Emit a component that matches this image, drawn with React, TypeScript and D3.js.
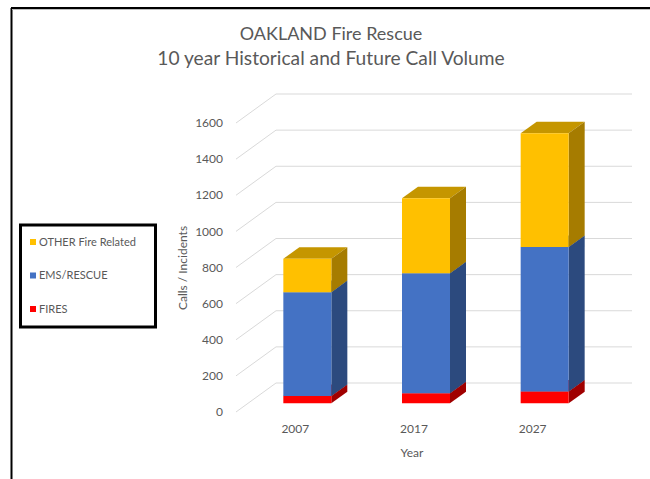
import React from "react";
import * as d3 from "d3";

const years = ["2007", "2017", "2027"];
const fires = [40, 55, 65];
const ems = [575, 665, 800];
const other = [185, 415, 630];
const yTicks = [0, 200, 400, 600, 800, 1000, 1200, 1400, 1600];
const seriesNames = ["FIRES", "EMS/RESCUE", "OTHER Fire Related"];

const colors = [
  { front: "#FF0000", side: "#A00000", top: "#C00000" },
  { front: "#4472C4", side: "#2C4A7E", top: "#365C9E" },
  { front: "#FFC000", side: "#A67C00", top: "#C59600" },
];

const FONT = "Lato, 'Open Sans', sans-serif";
const GRAY = "#595959";

export default function App() {
  const x = d3.scaleBand<string>().domain(years).range([236, 592]);
  const y = d3.scaleLinear().domain([0, 1600]).range([412, 123]);
  const DX = 40, DY = -29;
  const proj = (px: number, py: number, d: number): [number, number] => [px + DX * d, py + DY * d];
  const barW = 48;
  const d0 = 0.3, d1 = 0.7;

  const stackData = years.map((yr, i) => ({ yr, FIRES: fires[i], EMS: ems[i], OTHER: other[i] }));
  const stack = d3.stack<any>().keys(["FIRES", "EMS", "OTHER"]);
  const series = stack(stackData);

  const pts = (arr: [number, number][]) => arr.map((p) => p.join(",")).join(" ");

  const bars: React.ReactNode[] = [];
  years.forEach((yr, i) => {
    const cx = (x(yr) as number) + x.bandwidth() / 2;
    const xl = cx - barW / 2;
    const xr = cx + barW / 2;
    series.forEach((s, si) => {
      const [v0, v1] = s[i];
      const yb = y(v0);
      const yt = y(v1);
      const c = colors[si];
      const front: [number, number][] = [proj(xl, yb, d0), proj(xr, yb, d0), proj(xr, yt, d0), proj(xl, yt, d0)];
      const side: [number, number][] = [proj(xr, yb, d0), proj(xr, yb, d1), proj(xr, yt, d1), proj(xr, yt, d0)];
      const top: [number, number][] = [proj(xl, yt, d0), proj(xr, yt, d0), proj(xr, yt, d1), proj(xl, yt, d1)];
      bars.push(
        <g key={`${yr}-${si}`}>
          <polygon points={pts(top)} fill={c.top} />
          <polygon points={pts(side)} fill={c.side} />
          <polygon points={pts(front)} fill={c.front} />
        </g>
      );
    });
  });

  return (
    <svg width={650} height={479} style={{ position: "absolute", left: 0, top: 0, background: "#fff" }}>
      <rect x={0} y={0} width={650} height={479} fill="#fff" />
      {/* frame */}
      <line x1={11.5} y1={8} x2={11.5} y2={479} stroke="#000" strokeWidth={2} />
      <line x1={11} y1={8} x2={650} y2={8} stroke="#000" strokeWidth={2} />
      <line x1={12} y1={9.5} x2={650} y2={9.5} stroke="#BFBFBF" strokeWidth={1} />

      {/* title */}
      <text x={331} y={40} textAnchor="middle" fontFamily={FONT} fontSize={18} fill={GRAY}>
        OAKLAND Fire Rescue
      </text>
      <text x={331} y={65} textAnchor="middle" fontFamily={FONT} fontSize={19.2} fill={GRAY}>
        10 year Historical and Future Call Volume
      </text>

      {/* gridlines */}
      {yTicks.map((t) => {
        const p0 = proj(236, y(t), 0);
        const p1 = proj(236, y(t), 1);
        const p2: [number, number] = [632, p1[1]];
        return (
          <polyline key={t} points={pts([p0, p1, p2])} fill="none" stroke="#D9D9D9" strokeWidth={1} />
        );
      })}

      {/* y tick labels */}
      {yTicks.map((t) => (
        <text key={t} x={223} y={y(t)} dy="0.35em" textAnchor="end" fontFamily={FONT} fontSize={12} fill={GRAY}>
          {t}
        </text>
      ))}

      {bars}

      {/* x labels */}
      {years.map((yr) => (
        <text key={yr} x={(x(yr) as number) + x.bandwidth() / 2} y={433} textAnchor="middle" fontFamily={FONT} fontSize={12} fill={GRAY}>
          {yr}
        </text>
      ))}

      <text x={412} y={457} textAnchor="middle" fontFamily={FONT} fontSize={12} fill={GRAY}>
        Year
      </text>
      <text transform="translate(187,268) rotate(-90)" textAnchor="middle" fontFamily={FONT} fontSize={12} fill={GRAY}>
        Calls / Incidents
      </text>

      {/* legend */}
      <rect x={20.5} y={225} width={135} height={102} fill="#fff" stroke="#000" strokeWidth={3} />
      {[2, 1, 0].map((si, k) => {
        const ly = 242 + k * 33.5;
        return (
          <g key={si}>
            <rect x={30} y={ly - 3} width={6} height={6} fill={colors[si].front} />
            <text x={39} y={ly} dy="0.35em" fontFamily={FONT} fontSize={11} fill={GRAY}>
              {seriesNames[si]}
            </text>
          </g>
        );
      })}
    </svg>
  );
}
